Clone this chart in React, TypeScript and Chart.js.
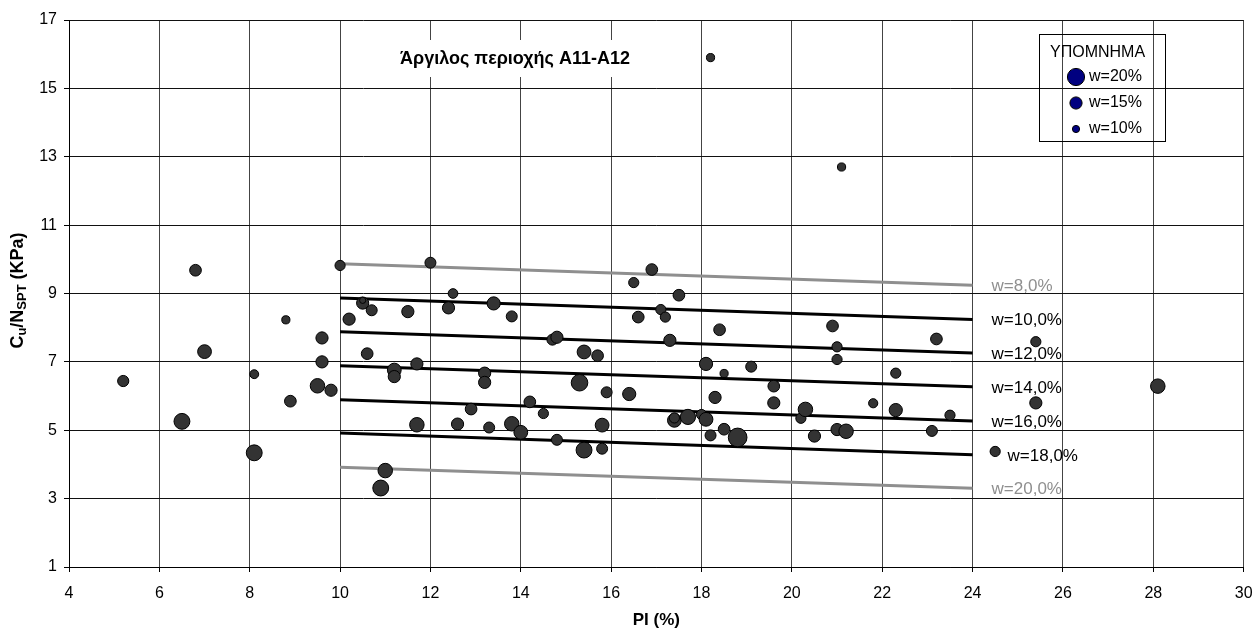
import React, { useEffect, useRef } from "react";
import { Chart, registerables } from "chart.js";

Chart.register(...registerables);

// ---- data ----
const PI_VALUES = [
  5.2, 6.5, 6.8, 7.0, 8.1, 8.1, 8.8, 8.9, 9.5, 9.6, 9.6, 9.8, 10.0, 10.2, 10.5, 10.5,
  10.6, 10.7, 10.9, 11.0, 11.2, 11.2, 11.5, 11.7, 11.7, 12.0, 12.4, 12.5, 12.6, 12.9,
  13.2, 13.2, 13.3, 13.4, 13.8, 13.8, 14.0, 14.2, 14.5, 14.7, 14.8, 14.8, 15.3, 15.4,
  15.4, 15.7, 15.8, 15.8, 15.9, 16.4, 16.5, 16.6, 16.9, 17.1, 17.2, 17.3, 17.4, 17.4,
  17.5, 17.7, 18.0, 18.1, 18.1, 18.2, 18.2, 18.3, 18.4, 18.5, 18.5, 18.8, 19.1, 19.6,
  19.6, 20.2, 20.3, 20.5, 20.9, 21.0, 21.0, 21.0, 21.1, 21.2, 21.8, 22.3, 22.3, 23.1,
  23.2, 23.5, 24.5, 25.4, 25.4, 28.1,
];
const CU_NSPT_VALUES = [
  6.44, 5.26, 9.68, 7.3, 6.64, 4.34, 8.23, 5.85, 6.3, 7.7, 7.0, 6.17, 9.82, 8.25, 8.72, 8.8,
  7.24, 8.51, 3.31, 3.82, 6.76, 6.57, 8.47, 6.94, 5.16, 9.9, 8.58, 9.0, 5.18, 5.62,
  6.67, 6.4, 5.08, 8.71, 8.33, 5.19, 4.94, 5.83, 5.49, 7.65, 7.72, 4.72, 6.39, 7.29,
  4.42, 7.18, 5.15, 4.46, 6.11, 6.06, 9.32, 8.31, 9.7, 8.53, 8.31, 7.63, 5.29, 5.36,
  8.95, 5.39, 5.46, 6.94, 5.32, 4.85, 15.9, 5.96, 7.94, 6.66, 5.03, 4.79, 6.86, 6.29,
  5.8, 5.35, 5.61, 4.83, 8.05, 7.44, 7.07, 5.02, 12.7, 4.97, 5.79, 6.67, 5.59, 4.98,
  7.67, 5.44, 4.38, 7.59, 5.8, 6.29,
];
// water content (%) of each sample, shown as bubble size
const W_VALUES = [
  14, 18.7, 14.5, 16.6, 11.7, 18.7, 11, 14.5, 17.3, 15, 15, 15, 13, 15, 15, 9,
  14.5, 13.8, 18.7, 17.3, 16.6, 15, 15, 15, 17.3, 13.8, 15, 12.5, 15, 14.5,
  15, 15, 13.8, 16, 13.8, 17.3, 16.6, 14.5, 13, 13.8, 15, 13.8, 19.4, 16.6,
  18.7, 14.5, 16.6, 13.8, 13.8, 16, 13, 14.5, 14.5, 13, 13, 15, 16.6, 13,
  14.5, 18, 13, 16, 16.6, 13.8, 11, 15, 14.5, 11, 14.5, 21.5, 13.8, 14.5,
  15, 13, 17.3, 15, 14.5, 13, 13, 15, 11, 17.3, 12, 13, 16, 13.8,
  14.5, 13, 13, 13, 15, 17.3,
];

// reference curves of constant water content
const CURVE_W = [8, 10, 12, 14, 16, 18, 20];
const CURVE_PI = [10, 24];
const CURVE_START = [9.87, 8.87, 7.88, 6.89, 5.89, 4.92, 3.92];
const CURVE_END = [9.24, 8.24, 7.26, 6.27, 5.27, 4.28, 3.3];

const LEGEND_W = [20, 15, 10];

const TITLE = "Άργιλος περιοχής A11-A12";
const LEGEND_TITLE = "ΥΠΟΜΝΗΜΑ";
const X_TITLE = "PI (%)";

const X_MIN = 4, X_MAX = 30, X_STEP = 2;
const Y_MIN = 1, Y_MAX = 17, Y_STEP = 2;

const FONT = '"Liberation Sans", Arial, sans-serif';
const radiusFor = (w: number) => 0.5 * w - 1.4;
const isGray = (w: number) => w === 8 || w === 20;

const overlayPlugin = {
  id: "overlay",
  afterDatasetsDraw(chart: any) {
    const { ctx, chartArea, scales } = chart;
    const xs = scales.x, ys = scales.y;
    ctx.save();

    // curve labels
    ctx.font = `17px ${FONT}`;
    ctx.textBaseline = "middle";
    ctx.textAlign = "left";
    CURVE_W.forEach((w, i) => {
      const px = xs.getPixelForValue(CURVE_PI[1]) + 19 + (w === 18 ? 16 : 0);
      const py = ys.getPixelForValue(CURVE_END[i]) + 1;
      ctx.fillStyle = isGray(w) ? "#8f8f8f" : "#000";
      ctx.fillText(`w=${w.toFixed(1).replace(".", ",")}%`, px, py);
    });

    // chart title with white box
    ctx.font = `bold 18px ${FONT}`;
    const tw = ctx.measureText(TITLE).width;
    const tcx = 515, tcy = 59;
    ctx.fillStyle = "#fff";
    ctx.fillRect(tcx - tw / 2 - 10, 40, tw + 20, 37);
    ctx.fillStyle = "#000";
    ctx.textAlign = "center";
    ctx.fillText(TITLE, tcx, tcy);

    // legend box
    ctx.strokeStyle = "#000";
    ctx.lineWidth = 1;
    ctx.strokeRect(1039.5, 34.5, 126, 107);
    ctx.font = `16px ${FONT}`;
    ctx.textAlign = "left";
    ctx.fillStyle = "#000";
    ctx.fillText(LEGEND_TITLE, 1050, 53);
    const ly = [77, 103, 129];
    LEGEND_W.forEach((w, i) => {
      ctx.beginPath();
      ctx.arc(1076, ly[i], radiusFor(w), 0, Math.PI * 2);
      ctx.fillStyle = "#000080";
      ctx.fill();
      ctx.strokeStyle = "#000";
      ctx.stroke();
      ctx.fillStyle = "#000";
      ctx.fillText(`w=${w}%`, 1089, ly[i]);
    });

    // x axis title
    ctx.font = `bold 17px ${FONT}`;
    ctx.textAlign = "center";
    ctx.fillText(X_TITLE, (chartArea.left + chartArea.right) / 2, 620);

    // y axis title with subscripts
    const parts: [string, boolean][] = [
      ["C", false], ["u", true], ["/N", false], ["SPT", true], [" (KPa)", false],
    ];
    const big = `bold 18px ${FONT}`, small = `bold 13px ${FONT}`;
    let total = 0;
    parts.forEach(([t, sub]) => {
      ctx.font = sub ? small : big;
      total += ctx.measureText(t).width;
    });
    ctx.translate(18, (chartArea.top + chartArea.bottom) / 2 - 3);
    ctx.rotate(-Math.PI / 2);
    ctx.textAlign = "left";
    let cx = -total / 2;
    parts.forEach(([t, sub]) => {
      ctx.font = sub ? small : big;
      ctx.fillText(t, cx, sub ? 4 : 0);
      cx += ctx.measureText(t).width;
    });
    ctx.restore();
  },
};

export default function App() {
  const ref = useRef<HTMLCanvasElement | null>(null);

  useEffect(() => {
    if (!ref.current) return;
    const points = PI_VALUES.map((x, i) => ({ x, y: CU_NSPT_VALUES[i] }));
    const curveSets = CURVE_W.map((w, i) => ({
      type: "line" as const,
      label: `w=${w}%`,
      data: [
        { x: CURVE_PI[0], y: CURVE_START[i] },
        { x: CURVE_PI[1], y: CURVE_END[i] },
      ],
      borderColor: isGray(w) ? "#8f8f8f" : "#000",
      borderWidth: 3,
      pointRadius: 0,
      fill: false,
      order: 1,
    }));

    const chart = new Chart(ref.current, {
      type: "scatter",
      data: {
        datasets: [
          {
            type: "scatter",
            label: "samples",
            data: points,
            pointRadius: (c: any) => radiusFor(W_VALUES[c.dataIndex] ?? 14),
            pointBackgroundColor: "#333333",
            pointBorderColor: "#000",
            pointBorderWidth: 1,
            order: 0,
          } as any,
          ...curveSets,
        ],
      },
      options: {
        responsive: false,
        animation: false,
        events: [],
        layout: { padding: { top: 20, right: 10, left: 0, bottom: 0 } },
        plugins: { legend: { display: false }, tooltip: { enabled: false } },
        scales: {
          x: {
            type: "linear",
            min: X_MIN,
            max: X_MAX,
            ticks: { stepSize: X_STEP, color: "#000", font: { size: 16, family: FONT }, padding: 12, maxRotation: 0 },
            grid: { color: "#444", lineWidth: 1, tickLength: 5, tickColor: "#000" },
            border: { color: "#000", width: 1 },
            afterFit: (s: any) => { s.height = 61; s.paddingLeft = 0; s.paddingRight = 0; },
          },
          y: {
            type: "linear",
            min: Y_MIN,
            max: Y_MAX,
            ticks: { stepSize: Y_STEP, color: "#000", font: { size: 16, family: FONT }, padding: 7 },
            grid: { color: "#111", lineWidth: 1, tickLength: 5, tickColor: "#000" },
            border: { color: "#000", width: 1 },
            afterFit: (s: any) => { s.width = 69; s.paddingTop = 0; s.paddingBottom = 0; },
          },
        },
      },
      plugins: [overlayPlugin],
    } as any);
    return () => chart.destroy();
  }, []);

  return (
    <div style={{ position: "fixed", left: 0, top: 0, width: 1254, height: 628, background: "#fff" }}>
      <canvas ref={ref} width={1254} height={628} style={{ display: "block" }} />
    </div>
  );
}
